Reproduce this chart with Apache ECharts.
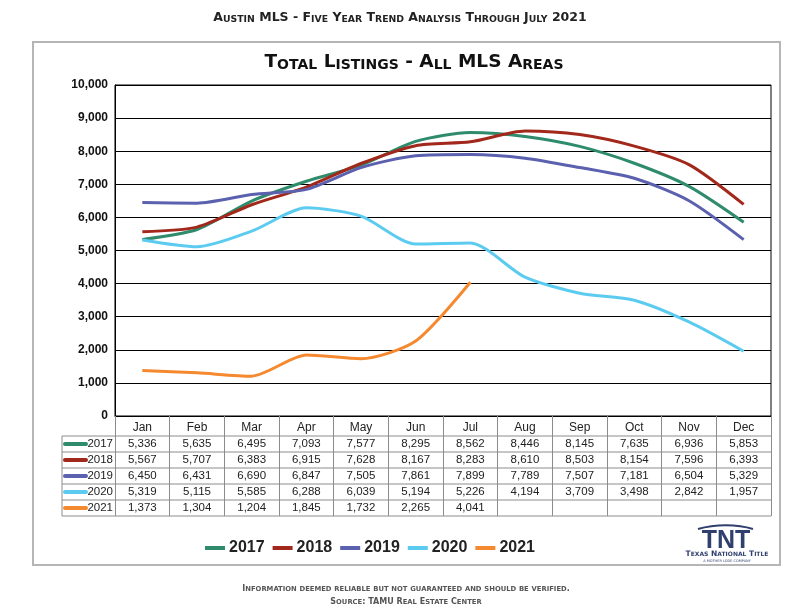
<!DOCTYPE html>
<html>
<head>
<meta charset="utf-8">
<script src="https://cdn.jsdelivr.net/npm/echarts@6/dist/echarts.min.js"></script>
<style>
  html, body { margin: 0; padding: 0; background: #fff; }
  #main { width: 799px; height: 609px; }
</style>
</head>
<body>
<div id="main"></div>
<script>
    // data
    var months = ['Jan', 'Feb', 'Mar', 'Apr', 'May', 'Jun', 'Jul', 'Aug', 'Sep', 'Oct', 'Nov', 'Dec'];
    var years = ['2017', '2018', '2019', '2020', '2021'];
    var colors = ['#2e8b6c', '#a2281b', '#5b61ae', '#5ccbf0', '#f5892f'];
    var v2017 = [5336, 5635, 6495, 7093, 7577, 8295, 8562, 8446, 8145, 7635, 6936, 5853];
    var v2018 = [5567, 5707, 6383, 6915, 7628, 8167, 8283, 8610, 8503, 8154, 7596, 6393];
    var v2019 = [6450, 6431, 6690, 6847, 7505, 7861, 7899, 7789, 7507, 7181, 6504, 5329];
    var v2020 = [5319, 5115, 5585, 6288, 6039, 5194, 5226, 4194, 3709, 3498, 2842, 1957];
    var v2021 = [1373, 1304, 1204, 1845, 1732, 2265, 4041];
    var rows = [v2017, v2018, v2019, v2020, v2021];
    var yMin = 0, yMax = 10000, yStep = 1000;

    // layout
    var gLeft = 115, gRight = 28, gTop = 85, gBottom = 193;
    var W = 799, H = 609;
    var rowH = 16, tableTop = 436, keyLeft = 62;

    function fmt(v) { return v == null ? '' : v.toLocaleString('en-US'); }

    // small caps as rich text: lowercase runs are shown as smaller capitals
    function smallCaps(s) {
        var out = '', cur = null, buf = '';
        for (var i = 0; i < s.length; i++) {
            var c = s[i];
            var cls = (c >= 'a' && c <= 'z') ? 's' : 'b';
            if (cls !== cur && buf) { out += '{' + cur + '|' + buf + '}'; buf = ''; }
            cur = cls;
            buf += cls === 's' ? c.toUpperCase() : c;
        }
        if (buf) out += '{' + cur + '|' + buf + '}';
        return out;
    }

    var myChart = echarts.init(document.getElementById('main'));

    var xAxes = [{
        type: 'category',
        data: months,
        boundaryGap: true,
        axisLine: {lineStyle: {color: '#000', width: 1}},
        axisTick: {show: true, interval: 0, length: 100, lineStyle: {color: '#8c8c8c'}},
        axisLabel: {interval: 0, margin: 12, verticalAlign: 'middle', color: '#222', fontSize: 12, fontFamily: 'Liberation Sans'},
        splitLine: {show: false}
    }];
    rows.forEach(function (r, i) {
        xAxes.push({
            type: 'category',
            data: months,
            position: 'bottom',
            axisLine: {show: false},
            axisTick: {show: false},
            splitLine: {show: false},
            axisLabel: {
                interval: 0, margin: 28 + rowH * i, verticalAlign: 'middle',
                color: '#222', fontSize: 11.5, fontFamily: 'Liberation Sans',
                formatter: function (v, idx) { return fmt(r[idx]); }
            }
        });
    });

    var graphics = [
        {type: 'rect', shape: {x: 33, y: 42, width: 747, height: 523},
            style: {fill: 'none', stroke: '#b5b5b5', lineWidth: 2}}
    ];
    // table row lines and key column
    for (var k = 0; k <= years.length; k++) {
        var yy = tableTop + rowH * k;
        graphics.push({type: 'line', shape: {x1: keyLeft, y1: yy, x2: W - gRight, y2: yy},
            style: {stroke: '#8c8c8c', lineWidth: 1}});
    }
    graphics.push({type: 'line', shape: {x1: keyLeft, y1: tableTop, x2: keyLeft, y2: tableTop + rowH * years.length},
        style: {stroke: '#8c8c8c', lineWidth: 1}});
    years.forEach(function (y, i) {
        var cy = tableTop + rowH * i + rowH / 2;
        graphics.push({type: 'line', shape: {x1: 65, y1: cy, x2: 86, y2: cy},
            style: {stroke: colors[i], lineWidth: 4, lineCap: 'round'}});
        graphics.push({type: 'text', x: 113, y: cy,
            style: {text: y, fill: '#222', fontSize: 11.5, fontFamily: 'Liberation Sans', align: 'right', verticalAlign: 'middle'}});
    });
    // logo
    graphics.push({type: 'bezierCurve', shape: {x1: 698, y1: 529, cpx1: 715, cpy1: 524, cpx2: 737, cpy2: 524, x2: 753, y2: 529},
        style: {stroke: '#2f3f6e', lineWidth: 2, fill: 'none'}});
    graphics.push({type: 'text', x: 726, y: 541,
        style: {text: 'TNT', fill: '#2f3f6e', fontSize: 25, fontWeight: 'bold', fontFamily: 'Liberation Sans', align: 'center', verticalAlign: 'middle'}});
    graphics.push({type: 'text', x: 727, y: 554,
        style: {text: smallCaps('Texas National Title'), align: 'center', verticalAlign: 'middle',
            rich: {b: {fontSize: 7.5, fontWeight: 'bold', fill: '#2f3f6e', fontFamily: 'DejaVu Sans'},
                   s: {fontSize: 6, fontWeight: 'bold', fill: '#2f3f6e', fontFamily: 'DejaVu Sans'}}}});
    graphics.push({type: 'text', x: 727, y: 561,
        style: {text: 'A MOTHER LODE COMPANY', fill: '#2f3f6e', fontSize: 3.5, fontFamily: 'DejaVu Sans', align: 'center', verticalAlign: 'middle'}});

    var option = {
        backgroundColor: '#fff',
        animation: false,
        color: colors,
        title: [
            {
                text: smallCaps('Austin MLS - Five Year Trend Analysis Through July 2021'),
                left: 395, textAlign: 'center', top: 4,
                textStyle: {rich: {
                    b: {fontSize: 12.5, fontWeight: 'bold', color: '#222', fontFamily: 'DejaVu Sans', verticalAlign: 'bottom', lineHeight: 15},
                    s: {fontSize: 9.3, fontWeight: 'bold', color: '#222', fontFamily: 'DejaVu Sans', verticalAlign: 'bottom', lineHeight: 15}
                }}
            },
            {
                text: smallCaps('Total Listings - All MLS Areas'),
                left: 409, textAlign: 'center', top: 46,
                textStyle: {rich: {
                    b: {fontSize: 18.5, fontWeight: 'bold', color: '#111', fontFamily: 'DejaVu Sans', verticalAlign: 'bottom', lineHeight: 21},
                    s: {fontSize: 14, fontWeight: 'bold', color: '#111', fontFamily: 'DejaVu Sans', verticalAlign: 'bottom', lineHeight: 21}
                }}
            },
            {
                text: smallCaps('Information deemed reliable but not guaranteed and should be verified.'),
                left: 401, textAlign: 'center', top: 577,
                textStyle: {rich: {
                    b: {fontSize: 8, color: '#555', fontFamily: 'DejaVu Sans', verticalAlign: 'bottom', lineHeight: 11},
                    s: {fontSize: 6.8, color: '#555', fontFamily: 'DejaVu Sans', verticalAlign: 'bottom', lineHeight: 11}
                }}
            },
            {
                text: smallCaps('Source: TAMU Real Estate Center'),
                left: 401, textAlign: 'center', top: 590,
                textStyle: {rich: {
                    b: {fontSize: 8, color: '#555', fontFamily: 'DejaVu Sans', verticalAlign: 'bottom', lineHeight: 11},
                    s: {fontSize: 6.8, color: '#555', fontFamily: 'DejaVu Sans', verticalAlign: 'bottom', lineHeight: 11}
                }}
            }
        ],
        legend: {
            data: years,
            left: 205, top: 540,
            padding: 0,
            icon: 'rect',
            itemWidth: 20, itemHeight: 4, itemGap: 8,
            textStyle: {fontSize: 16, fontWeight: 'bold', color: '#222', fontFamily: 'Liberation Sans', padding: [0, 0, 0, -1]}
        },
        grid: {left: gLeft, right: gRight, top: gTop, bottom: gBottom, show: true, borderColor: '#000', borderWidth: 1},
        xAxis: xAxes,
        yAxis: {
            type: 'value',
            min: yMin, max: yMax, interval: yStep,
            axisLine: {show: true, lineStyle: {color: '#000'}},
            axisTick: {show: false},
            splitLine: {lineStyle: {color: '#000', width: 1}},
            axisLabel: {margin: 7, fontSize: 12, fontWeight: 'bold', color: '#111', fontFamily: 'Liberation Sans', formatter: fmt}
        },
        series: years.map(function (y, i) {
            return {
                name: y,
                type: 'line',
                data: rows[i],
                smooth: 0.25,
                symbol: 'none',
                lineStyle: {width: 3, color: colors[i]},
                itemStyle: {color: colors[i]}
            };
        }),
        graphic: graphics
    };

    myChart.setOption(option);
</script>
</body>
</html>
